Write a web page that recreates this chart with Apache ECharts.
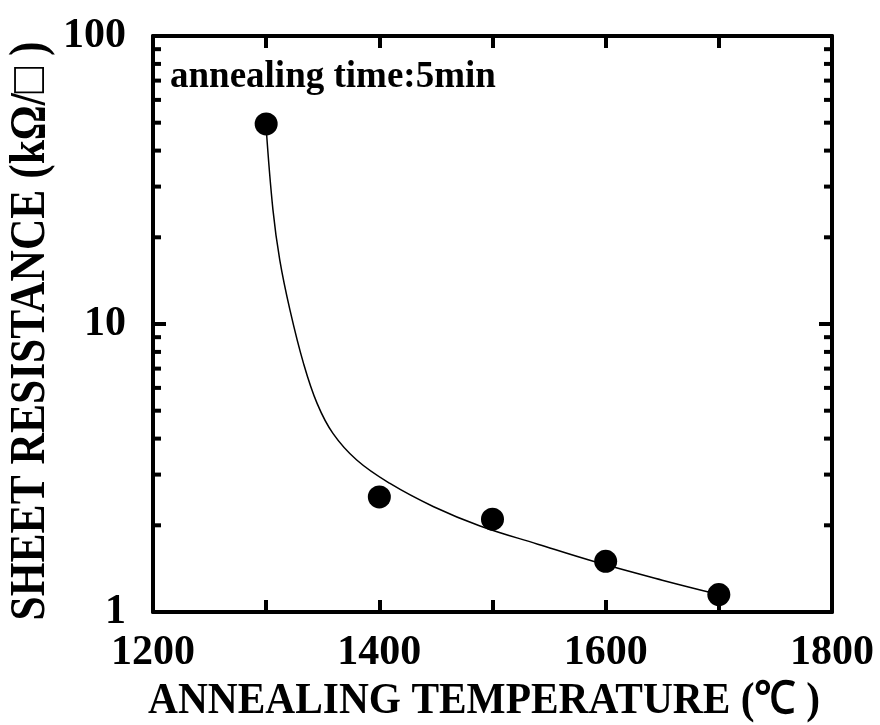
<!DOCTYPE html>
<html><head><meta charset="utf-8">
<script src="https://cdn.jsdelivr.net/npm/echarts@6/dist/echarts.min.js"></script>
<style>html,body{margin:0;padding:0;background:#fff}#c{width:880px;height:725px}</style>
</head><body><div id="c"></div>
<script>
// measured data points
const temperature = [1300, 1400, 1500, 1600, 1700];
const resistance = [49.5, 2.51, 2.10, 1.50, 1.15];
// fitted curve
const fitTemperature = [1300, 1306, 1312, 1321, 1333, 1345, 1359, 1380, 1409, 1448, 1489, 1540, 1589, 1650, 1700];
const fitResistance = [48, 24.9, 16.7, 11.2, 7.3, 5.3, 4.17, 3.37, 2.80, 2.32, 1.99, 1.72, 1.50, 1.29, 1.15];
// axes
const xMin = 1200, xMax = 1800, xStep = 100, xLabelStep = 200;
const yMin = 1, yMax = 100;
const yMinorTicks = [2, 3, 4, 5, 6, 7, 8, 9, 20, 30, 40, 50, 60, 70, 80, 90];
// texts
const xTitle = 'ANNEALING TEMPERATURE (℃ )';
const yTitle = 'SHEET RESISTANCE (kΩ/□ )';
const note = 'annealing time:5min';

const FONT = '"Liberation Serif", "Times New Roman", serif';
const chart = echarts.init(document.getElementById('c'), null, {renderer: 'canvas'});
const lineStyle = {color: '#000', width: 4};
const minorLen = 8;

chart.setOption({
  animation: false,
  backgroundColor: '#fff',
  grid: {left: 153, right: 48, top: 36, bottom: 113},
  xAxis: [
    {type: 'value', position: 'bottom', min: xMin, max: xMax, interval: xStep,
     axisLine: {show: true, lineStyle: lineStyle},
     axisTick: {show: true, inside: true, length: 12, lineStyle: {color: '#000', width: 4}},
     splitLine: {show: false},
     axisLabel: {show: true, margin: 20, color: '#000', fontFamily: FONT, fontWeight: 'bold', fontSize: 42,
       formatter: v => (v % xLabelStep === 0 ? String(v) : '')}},
    {type: 'value', position: 'top', min: xMin, max: xMax, interval: xStep,
     axisLine: {show: true, lineStyle: lineStyle},
     axisTick: {show: true, inside: true, length: 12, lineStyle: {color: '#000', width: 4}},
     splitLine: {show: false}, axisLabel: {show: false}}
  ],
  yAxis: [
    {type: 'log', logBase: 10, position: 'left', min: yMin, max: yMax,
     axisLine: {show: true, lineStyle: lineStyle},
     axisTick: {show: true, inside: true, length: 13, lineStyle: {color: '#000', width: 4}},
     splitLine: {show: false},
     axisLabel: {show: true, margin: 27, color: '#000', fontFamily: FONT, fontWeight: 'bold', fontSize: 42,
       padding: [0, 0, 9, 0]}},
    {type: 'log', logBase: 10, position: 'right', min: yMin, max: yMax,
     axisLine: {show: true, lineStyle: lineStyle},
     axisTick: {show: true, inside: true, length: 13, lineStyle: {color: '#000', width: 4}},
     splitLine: {show: false}, axisLabel: {show: false}}
  ],
  graphic: [
    {type: 'text', x: 170, y: 77, z: 10,
     style: {text: note, font: 'bold 37px ' + FONT, fill: '#000', align: 'left', verticalAlign: 'middle'}},
    {type: 'text', x: 484, y: 701, scaleX: 0.92, z: 10,
     style: {text: xTitle, font: 'bold 45px ' + FONT, fill: '#000', align: 'center', verticalAlign: 'middle'}},
    {type: 'text', x: 31, y: 331, rotation: Math.PI / 2, scaleX: 0.87, z: 10,
     style: {text: yTitle, font: 'bold 50px ' + FONT, fill: '#000', align: 'center', verticalAlign: 'middle'}}
  ],
  series: [
    {type: 'custom', xAxisIndex: 0, yAxisIndex: 0, silent: true, clip: false, z: 5,
     data: yMinorTicks.map(v => [xMin, v]),
     renderItem: function (params, api) {
       const cs = params.coordSys;
       const y = api.coord([api.value(0), api.value(1)])[1];
       const st = {stroke: '#000', lineWidth: 4};
       return {type: 'group', children: [
         {type: 'line', shape: {x1: cs.x, y1: y, x2: cs.x + minorLen, y2: y}, style: st},
         {type: 'line', shape: {x1: cs.x + cs.width - minorLen, y1: y, x2: cs.x + cs.width, y2: y}, style: st}
       ]};
     }},
    {type: 'line', name: 'fit', data: fitTemperature.map((t, i) => [t, fitResistance[i]]),
     showSymbol: false, smooth: 0.4,
     lineStyle: {color: '#000', width: 1.5}, itemStyle: {color: '#000'}, z: 3, silent: true},
    {type: 'scatter', name: 'data', data: temperature.map((t, i) => [t, resistance[i]]),
     symbol: 'circle', symbolSize: 23, itemStyle: {color: '#000', opacity: 1}, z: 4}
  ]
});
</script></body></html>
